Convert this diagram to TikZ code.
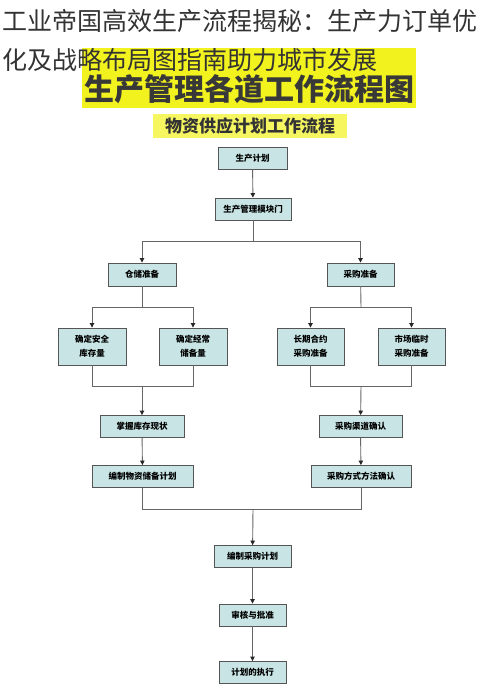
\documentclass[tikz,border=0pt]{standalone}
\usepackage{fontspec}
\newfontfamily\cjk{Noto Sans CJK SC}
\usetikzlibrary{arrows.meta}
\definecolor{boxfill}{HTML}{C8E4E4}
\definecolor{boxline}{HTML}{555555}
\definecolor{banner}{HTML}{F2F21E}
\definecolor{linegray}{HTML}{666666}
\begin{document}
\begin{tikzpicture}[x=1pt,y=-1pt,
  stepbox/.style={draw=boxline,line width=0.9pt,fill=boxfill,inner sep=0pt,
    font=\cjk\bfseries\fontsize{8.5}{11}\selectfont,align=center,text=black},
  conn/.style={draw=linegray,line width=0.9pt},
  arr/.style={conn,-{Triangle[length=4.5pt,width=4.5pt,color=black!85]}},
  titletext/.style={font=\cjk\fontsize{25}{30}\selectfont,text=black!80,inner sep=0pt,anchor=west}]
\useasboundingbox (0,0) rectangle (500,693);
\fill[white] (0,0) rectangle (500,693);
% banner
\fill[banner] (82,48) rectangle (416,108);
\node[font=\cjk\bfseries\fontsize{30}{34}\selectfont,text=black!78,inner sep=0pt] (bannertext) at (249,89) {生产管理各道工作流程图};
% title
\node[titletext] (t1) at (2,21) {工业帝国高效生产流程揭秘：生产力订单优};
\node[titletext] (t2) at (2,60) {化及战略布局图指南助力城市发展};
% subtitle
\fill[banner!70!white] (153,114) rectangle (347,138);
\node[font=\cjk\bfseries\fontsize{17}{20}\selectfont,text=black!80,inner sep=0pt] (sub) at (250,126) {物资供应计划工作流程};
% boxes
\node[stepbox,minimum width=69pt,minimum height=22pt] (plan) at (252.5,158) {生产计划};
\node[stepbox,minimum width=76pt,minimum height=22pt] (dept) at (253,209) {生产管理模块门};
\node[stepbox,minimum width=68pt,minimum height=23pt] (store) at (142,274.5) {仓储准备};
\node[stepbox,minimum width=67pt,minimum height=23pt] (buy) at (360.5,274.5) {采购准备};
\node[stepbox,minimum width=68pt,minimum height=37pt] (safe) at (92,346.5) {确定安全\\[3pt]库存量};
\node[stepbox,minimum width=68pt,minimum height=37pt] (regular) at (193,346.5) {确定经常\\[3pt]储备量};
\node[stepbox,minimum width=67pt,minimum height=37pt] (longterm) at (310.5,346.5) {长期合约\\[3pt]采购准备};
\node[stepbox,minimum width=67pt,minimum height=37pt] (market) at (411.5,346.5) {市场临时\\[3pt]采购准备};
\node[stepbox,minimum width=84pt,minimum height=22pt] (stock) at (142,426.5) {掌握库存现状};
\node[stepbox,minimum width=101pt,minimum height=22pt] (reserve) at (142.5,476.5) {编制物资储备计划};
\node[stepbox,minimum width=83pt,minimum height=22pt] (channel) at (360.5,426.5) {采购渠道确认};
\node[stepbox,minimum width=100pt,minimum height=22pt] (method) at (361,476.5) {采购方式方法确认};
\node[stepbox,minimum width=77pt,minimum height=22pt] (pplan) at (252.5,556.5) {编制采购计划};
\node[stepbox,minimum width=67pt,minimum height=22pt] (approve) at (252.5,615) {审核与批准};
\node[stepbox,minimum width=67pt,minimum height=22pt] (exec) at (252.5,672.5) {计划的执行};
% junction coordinates
\coordinate (j1) at (253,241);
\coordinate (j2) at (142,307);
\coordinate (j3) at (361,307);
\coordinate (j4) at (142,386);
\coordinate (j5) at (361,386);
\coordinate (j6) at (253,509);
% connectors
\draw[arr] (plan) -- (dept);
\draw[conn] (dept) -- (j1);
\draw[arr] (j1) -| (store);
\draw[arr] (j1) -| (buy);
\draw[conn] (store) -- (j2);
\draw[arr] (j2) -| (safe);
\draw[arr] (j2) -| (regular);
\draw[conn] (buy) -- (j3);
\draw[arr] (j3) -| (longterm);
\draw[arr] (j3) -| (market);
\draw[conn] (safe) |- (j4);
\draw[conn] (regular) |- (j4);
\draw[arr] (j4) -- (stock);
\draw[conn] (longterm) |- (j5);
\draw[conn] (market) |- (j5);
\draw[arr] (j5) -- (channel);
\draw[arr] (stock) -- (reserve);
\draw[arr] (channel) -- (method);
\draw[conn] (reserve) |- (j6);
\draw[conn] (method) |- (j6);
\draw[arr] (j6) -- (pplan);
\draw[arr] (pplan) -- (approve);
\draw[arr] (approve) -- (exec);
\end{tikzpicture}
\end{document}
